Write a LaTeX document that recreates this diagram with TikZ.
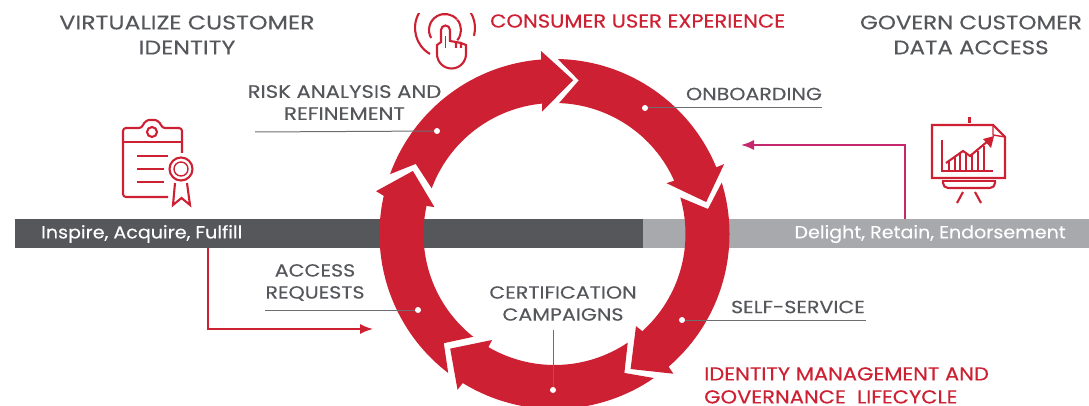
\documentclass[tikz,border=0pt]{standalone}
\usepackage{fontspec}
\setmainfont{Poppins}
\newfontfamily\headfont[FakeStretch=1.17,FakeBold=0.25]{Poppins}
\newfontfamily\virtfont[FakeStretch=1.21,FakeBold=0.25]{Poppins}
\newfontfamily\lblfont[FakeStretch=1.17,FakeBold=0.25]{Poppins}
\newfontfamily\redfont[FakeStretch=1.12,FakeBold=0.35]{Poppins}
\newfontfamily\barfont[FakeStretch=1.09,FakeBold=0.25]{Poppins}
\usetikzlibrary{arrows.meta}
\definecolor{cred}{HTML}{CD2032}
\definecolor{cdark}{HTML}{55575B}
\definecolor{cgrey}{HTML}{A7A9AC}
\definecolor{cline}{HTML}{6D6E71}
\definecolor{cpink}{HTML}{C6286F}
\newcommand{\ringarrow}[8]{%
  \fill[cred] (#1:175) arc[start angle=#1,end angle=#4,radius=175] -- (#6:183.5) -- (#8:155) -- (#7:123) -- (#5:131) arc[start angle=#5,end angle=#2,radius=131] -- (#3:155.5) -- cycle;}
\tikzset{
  lbl/.style={text=cdark,font=\lblfont\fontsize{17.6}{22}\selectfont,align=center,inner sep=0pt},
  head/.style={text=cdark,font=\headfont\fontsize{19.6}{25}\selectfont,align=center,inner sep=0pt},
  redlbl/.style={text=cred,font=\redfont\fontsize{18.8}{23}\selectfont,align=left,inner sep=0pt},
  barlbl/.style={text=white,font=\barfont\fontsize{17.5}{20}\selectfont,inner sep=0pt},
  leader/.style={draw=cline,line width=1pt},
  dot/.style={circle,fill=white,inner sep=0pt,minimum size=6pt},
  icon/.style={draw=cred,line width=2.1pt},
  thin icon/.style={draw=cred,line width=1.4pt},
  flow/.style={line width=1.6pt,-{Latex[length=13pt,width=10pt]}}
}
\begin{document}
\begin{tikzpicture}[x=1pt,y=-1pt]
\useasboundingbox (0,0) rectangle (1089,406);
\clip (0,0) rectangle (1089,406);
% bars
\node[fill=cdark,minimum width=628pt,minimum height=29pt,inner sep=0pt,anchor=north west] (darkbar) at (15,219) {};
\node[fill=cgrey,minimum width=446pt,minimum height=29pt,inner sep=0pt,anchor=north west] (greybar) at (643,219) {};
\node[barlbl,anchor=west] (inspire) at (41,234) {Inspire, Acquire, Fulfill};
\node[barlbl,anchor=east] (delight) at (1066,234) {Delight, Retain, Endorsement};
% flow connectors
\coordinate (redstart) at (208,248);
\coordinate (redbend) at (208,329);
\coordinate (redend) at (373,329);
\coordinate (pinkstart) at (905,219);
\coordinate (pinkbend) at (905,145);
\coordinate (pinkend) at (741,145);
\draw[flow,cred] (redstart) -- (redbend) -- (redend);
\draw[flow,cpink] (pinkstart) -- (pinkbend) -- (pinkend);
% ring
\begin{scope}[shift={(554.5,234)}]
\ringarrow{200}{200.4}{206.8}{265.6}{264.6}{265.8}{264.2}{276.9}
\ringarrow{271.1}{272}{279}{337.6}{336}{337.6}{335.6}{348.1}
\ringarrow{-17.1}{-16.2}{-9.25}{49.3}{47.9}{49.6}{48.5}{60.6}
\ringarrow{55.4}{56}{63.3}{121.6}{120.3}{121.9}{120.5}{132.3}
\ringarrow{127.4}{128.3}{135.4}{192.6}{192.4}{193.5}{192.6}{204}
\end{scope}
% leaders
\node[dot] (d1) at (437,131) {};
\node[dot] (d2) at (645,108) {};
\node[dot] (d3) at (682,320) {};
\node[dot] (d4) at (553,390) {};
\node[dot] (d5) at (418,310) {};
\coordinate (e1) at (255,132);
\coordinate (e2) at (822,108);
\coordinate (e3) at (866,320);
\coordinate (e4) at (553,330);
\coordinate (e5) at (265,310);
\draw[leader] (e1) -- (d1);
\draw[leader] (e2) -- (d2);
\draw[leader] (e3) -- (d3);
\draw[leader] (e4) -- (d4);
\draw[leader] (e5) -- (d5);
% texts
\node[head,font=\virtfont\fontsize{19.6}{25}\selectfont] (virt) at (187,35) {VIRTUALIZE CUSTOMER\\IDENTITY};
\node[head] (govern) at (971,35) {GOVERN CUSTOMER\\DATA ACCESS};
\node[redlbl,anchor=west] (consumer) at (490,21) {CONSUMER USER EXPERIENCE};
\node[lbl,font=\lblfont\fontsize{18.1}{22}\selectfont] (risk) at (344.5,102.5) {RISK ANALYSIS AND\\REFINEMENT\hspace{9pt}};
\node[lbl] (onb) at (754,94) {ONBOARDING};
\node[lbl] (acc) at (315,282.5) {ACCESS\\REQUESTS};
\node[lbl] (self) at (798,307) {SELF-SERVICE};
\node[lbl] (cert) at (563,303.5) {CERTIFICATION\\CAMPAIGNS\hspace{5pt}};
\node[redlbl,anchor=north west] (idm) at (704,367) {IDENTITY MANAGEMENT AND\\GOVERNANCE\ \ LIFECYCLE};
% clipboard icon
\draw[icon,rounded corners=3pt] (182,153) -- (182,128) -- (162,128) .. controls (160,122) and (156,120) .. (152,120) .. controls (148,120) and (144,122) .. (142,128) -- (123,128) -- (123,197) -- (168,197);
\draw[icon] (123,142) -- (182,142);
\draw[icon] (152,132) circle (5);
\draw[icon] (137,156) -- (168,156) (137,169) -- (164,169) (137,182) -- (164,182);
\draw[icon] (181,169) circle (11.5);
\draw[thin icon] (181,169) circle (7);
\draw[icon] (175,183) -- (173,205) -- (181.5,198) -- (190,205) -- (187,183);
% presentation icon
\fill[cred] (967.5,117) rectangle (971,123);
\draw[icon] (993,125) -- (932,125) -- (932,178) -- (1005,178) -- (1005,137) -- cycle;
\draw[thin icon] (993,125) -- (993,135) -- (1005,137);
\draw[icon] (942,140) -- (942,171) -- (993,171);
\draw[icon] (946,163) -- (963,151) -- (970,156) -- (988,141);
\fill[cred] (994,136) -- (983,139) -- (991,148) -- cycle;
\draw[thin icon] (949,161) -- (949,171) (955,157) -- (955,171) (960,153) -- (960,171) (966,153) -- (966,171) (972,155) -- (972,171) (978,151) -- (978,171) (984,146) -- (984,171);
\draw[icon,rounded corners=5pt] (943,181) -- (943,188) -- (995,188) -- (995,181);
\draw[icon] (942,181) -- (996,181);
\draw[icon] (963,192) -- (957,203) (975,192) -- (981,203);
% hand icon
\begin{scope}
\clip (400,14) rectangle (490,80);
\draw[icon] (445,28) ++(120:30) arc[start angle=120,end angle=262,radius=30];
\draw[icon] (445,28) ++(15:30) arc[start angle=15,end angle=-60,radius=30];
\draw[icon] (445,30) ++(150:16) arc[start angle=150,end angle=318,radius=16];
\draw[icon] (445,30) ++(40:16) arc[start angle=40,end angle=-40,radius=16];
\end{scope}
\draw[icon,fill=white] (441,43) -- (441,30) arc[start angle=180,end angle=360,radius=4.5] -- (450,41) -- (456,42) (456,48) -- (456,42) -- (461,43) (461,48) -- (461,43) -- (466,45) -- (466,54) arc[start angle=0,end angle=180,radius=14.5] -- (437,45) -- (441,42);
\draw[thin icon] (445.5,36) -- (445.5,48);
\end{tikzpicture}
\end{document}
